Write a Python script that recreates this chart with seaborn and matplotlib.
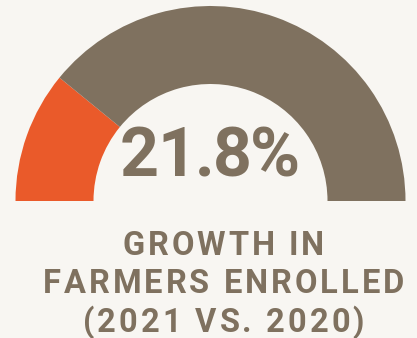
import matplotlib
matplotlib.use("Agg")
import matplotlib.pyplot as plt
import seaborn as sns

sns.set_theme(style="white")
plt.rcParams['font.family'] = ['Roboto', 'DejaVu Sans']

# ---- data ----
segments = ["Growth", "Remainder"]
values = [21.8, 78.2]
value_label = "21.8%"
caption_lines = ["GROWTH IN", "FARMERS ENROLLED", "(2021 VS. 2020)"]

BG = "#f8f6f2"
BROWN = "#7f715f"
ORANGE = "#ea5a2a"

W, H = 417, 338
fig = plt.figure(figsize=(W / 100, H / 100), dpi=100, facecolor=BG)
ax = fig.add_axes([0, 0, 1, 1])
ax.set_facecolor(BG)

total = sum(values)
cx, cy = 210.5, H - 201
ax.pie(values + [total], colors=[ORANGE, BROWN, (0, 0, 0, 0)],
       startangle=180, counterclock=False, radius=195, center=(cx, cy),
       wedgeprops=dict(width=78, linewidth=0))
ax.set_xlim(0, W)
ax.set_ylim(0, H)
ax.set_aspect('equal')
ax.axis('off')

renderer = fig.canvas.get_renderer()


def text_width(s, **kw):
    t = ax.text(0, 0, s, **kw)
    w = t.get_window_extent(renderer).width
    t.remove()
    return w


def spaced_text(xc, yb, s, spacing, **kw):
    ref = text_width("H", **kw)
    natural = text_width(s, **kw)
    n = len(s)
    total_w = natural + (n - 1) * spacing
    x0 = xc - total_w / 2
    for i, ch in enumerate(s):
        if ch == " ":
            continue
        off = 0 if i == 0 else text_width(s[:i] + "H", **kw) - ref
        ax.text(x0 + off + i * spacing, yb, ch, ha="left", va="baseline", **kw)


spaced_text(210, H - 176.5, value_label, -1.5,
            fontsize=49, fontweight="bold", color=BROWN)

cap_kw = dict(fontsize=23.5, fontweight="bold", color=BROWN)
baselines = [255, 293, 331.5]
for line, yb in zip(caption_lines, baselines):
    spaced_text(223.5, H - yb, line, 3.0, **cap_kw)

fig.savefig("out.png", dpi=100, facecolor=BG)
